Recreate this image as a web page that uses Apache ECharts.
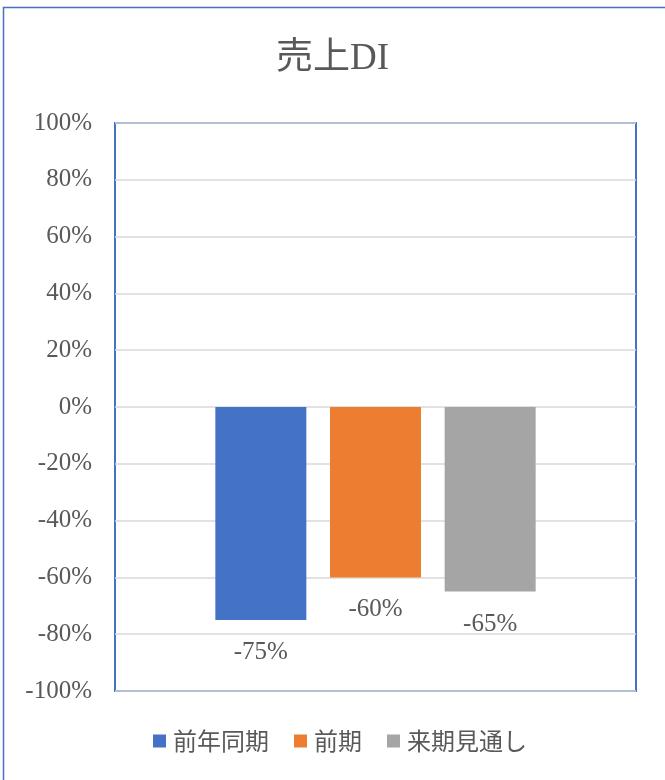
<!DOCTYPE html>
<html><head><meta charset="utf-8">
<script src="https://cdn.jsdelivr.net/npm/echarts@6/dist/echarts.min.js"></script>
<style>html,body{margin:0;padding:0;background:#fff}#c{width:665px;height:780px}</style>
</head><body><div id="c"></div>
<script>
const categories = ['売上DI'];
const seriesNames = ['前年同期', '前期', '来期見通し'];
const seriesValues = [[-75], [-60], [-65]];
const seriesColors = ['#4472C4', '#ED7D31', '#A5A5A5'];
const yTicks = [-100, -80, -60, -40, -20, 0, 20, 40, 60, 80, 100];

const chart = echarts.init(document.getElementById('c'));
const serif = '"Liberation Serif", "Noto Sans CJK JP", serif';
chart.setOption({
  animation: false,
  graphic: [{type: 'rect', shape: {x: 3.5, y: 7.5, width: 700, height: 800}, style: {fill: 'none', stroke: '#4472C4', lineWidth: 1.5}, silent: true}],
  title: {text: '売上DI', left: 'center', top: 36, textStyle: {fontFamily: serif, fontSize: 37, fontWeight: 'normal', color: '#595959'}},
  legend: {bottom: 22, left: 148, itemWidth: 13, itemHeight: 13, itemGap: 25, icon: 'rect',
    textStyle: {fontFamily: '"Noto Sans CJK JP", sans-serif', fontSize: 24, color: '#595959', padding: [0, 0, 0, 2]}},
  grid: {left: 115, right: 29, top: 123, bottom: 89, show: true, borderColor: '#4472C4', borderWidth: 2, containLabel: false},
  xAxis: {type: 'category', data: categories, axisLine: {show: false}, axisTick: {show: false}, axisLabel: {show: false}},
  yAxis: {type: 'value', min: yTicks[0], max: yTicks[yTicks.length - 1], interval: 20,
    axisLine: {show: false}, axisTick: {show: false},
    splitLine: {lineStyle: {color: '#D9D9D9', width: 1.5}},
    axisLabel: {formatter: v => v + '%', fontFamily: serif, fontSize: 25, color: '#595959', margin: 23}},
  series: seriesNames.map((n, i) => ({
    name: n, type: 'bar', data: seriesValues[i], barWidth: 91, barGap: '26%',
    itemStyle: {color: seriesColors[i]},
    label: {show: true, position: 'bottom', distance: 20, formatter: p => p.value + '%', fontFamily: serif, fontSize: 25, color: '#595959'}
  }))
});
</script></body></html>
